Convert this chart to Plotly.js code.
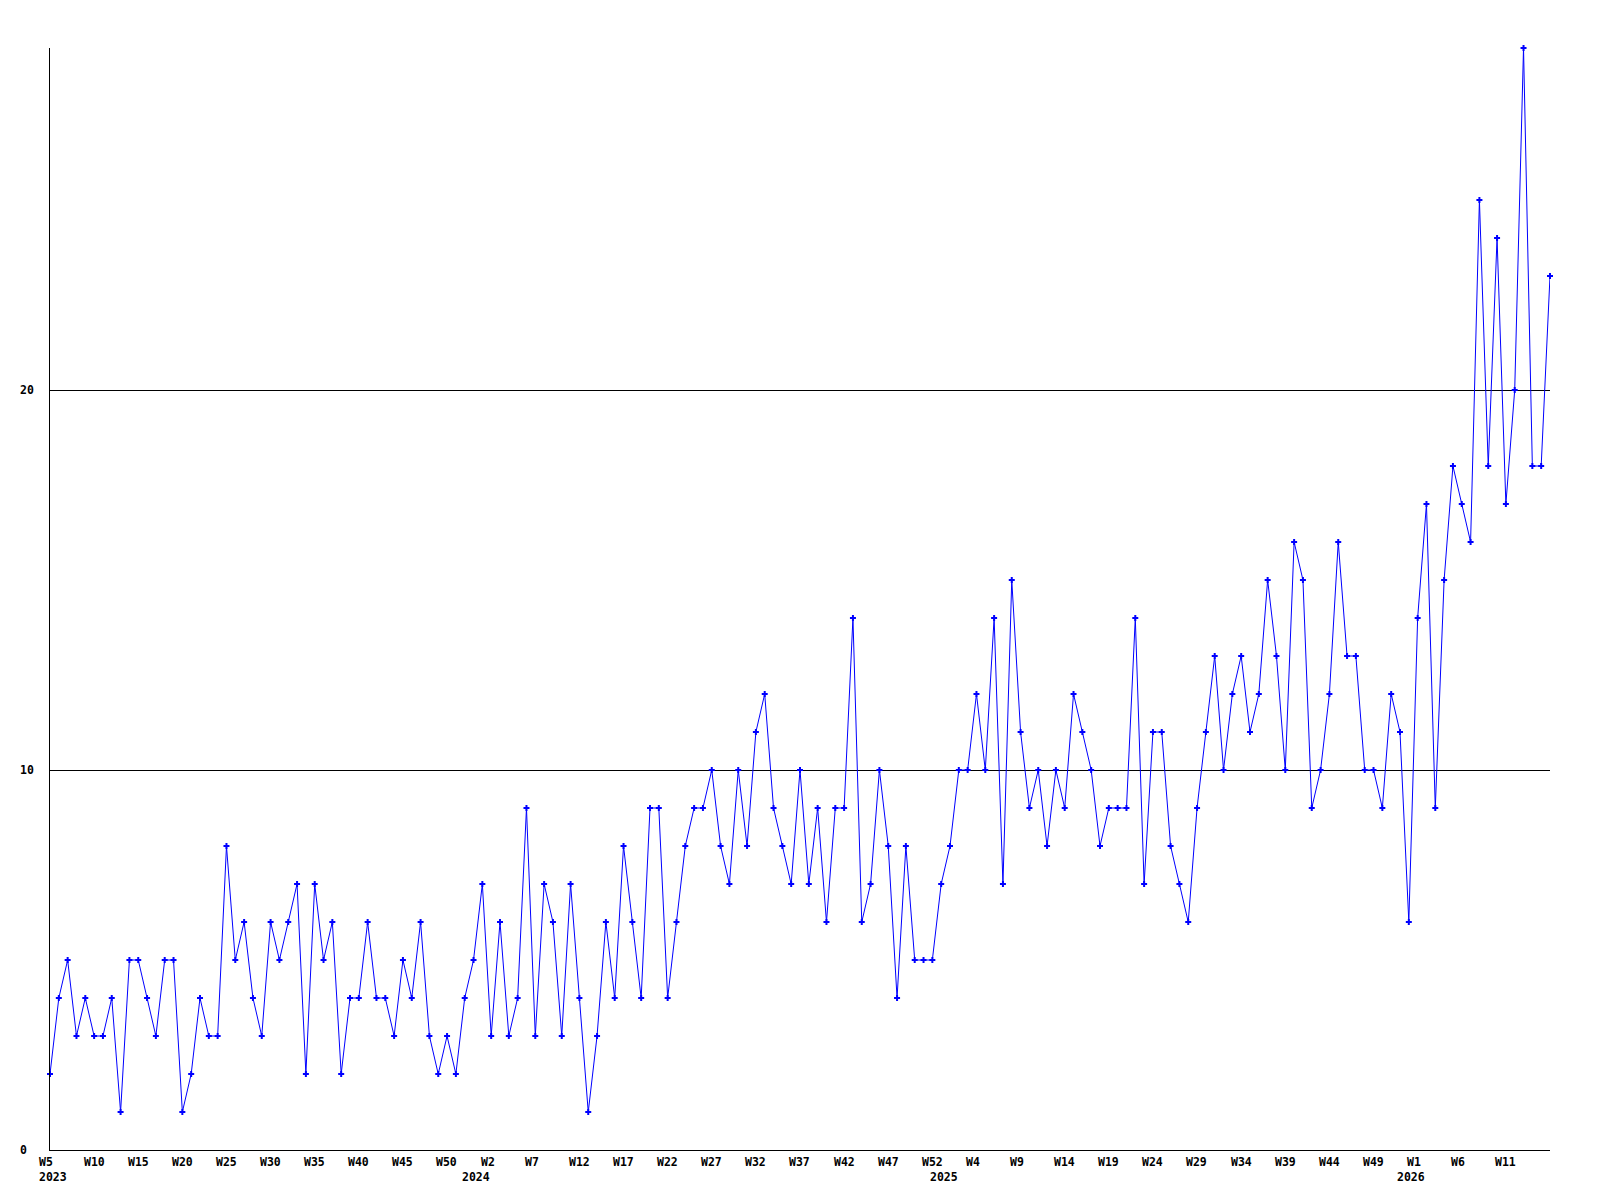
<!DOCTYPE html>
<html>
<head>
<meta charset="utf-8">
<script src="https://cdn.plot.ly/plotly-3.0.1.min.js"></script>
<style>html,body{margin:0;padding:0;background:#fff;}#chart{width:1600px;height:1200px;}</style>
</head>
<body>
<div id="chart"></div>
<script>
// Weekly counts, 2023 W5 onward (one value per week)
const counts = [
  2,4,5,3,4,3,3,4,1,5,
  5,4,3,5,5,1,2,4,3,3,
  8,5,6,4,3,6,5,6,7,2,
  7,5,6,2,4,4,6,4,4,3,
  5,4,6,3,2,3,2,4,5,7,
  3,6,3,4,9,3,7,6,3,7,
  4,1,3,6,4,8,6,4,9,9,
  4,6,8,9,9,10,8,7,10,8,
  11,12,9,8,7,10,7,9,6,9,
  9,14,6,7,10,8,4,8,5,5,
  5,7,8,10,10,12,10,14,7,15,
  11,9,10,8,10,9,12,11,10,8,
  9,9,9,14,7,11,11,8,7,6,
  9,11,13,10,12,13,11,12,15,13,
  10,16,15,9,10,12,16,13,13,10,
  10,9,12,11,6,14,17,9,15,18,
  17,16,25,18,24,17,20,29,18,18,23
];
// Week tick labels (every 5th week)
const weekLabels = [
  "W5","W10","W15","W20","W25","W30","W35","W40","W45","W50",
  "W2","W7","W12","W17","W22","W27","W32","W37","W42","W47","W52",
  "W4","W9","W14","W19","W24","W29","W34","W39","W44","W49",
  "W1","W6","W11"
];
const yearLabels = ["2023","2024","2025","2026"];
// index of the week label under which each year starts
const yearLabelTick = [0, 10, 21, 31];
const yTickValues = [0, 10, 20];

const tickStep = 5;
const xs = counts.map((_, i) => i);

const font = {family: "DejaVu Sans Mono, Liberation Mono, monospace", size: 11.5, color: "#000", weight: "bold"};

const annotations = [];
weekLabels.forEach((lab, k) => {
  annotations.push({
    x: k * tickStep, xref: "x", y: 0, yref: "paper",
    text: lab, showarrow: false, xanchor: "left", yanchor: "middle",
    xshift: -12.6, yshift: -12, font: font
  });
});
yearLabels.forEach((lab, k) => {
  const t = yearLabelTick[k];
  const weekNum = parseInt(weekLabels[t].slice(1), 10);
  const startIdx = t * tickStep - weekNum + 0.3;
  if (startIdx < 0) {
    annotations.push({x: 0, xref: "x", y: 0, yref: "paper", text: lab, showarrow: false,
      xanchor: "left", yanchor: "middle", xshift: -12.6, yshift: -26.5, font: font});
  } else {
    annotations.push({x: startIdx, xref: "x", y: 0, yref: "paper", text: lab, showarrow: false,
      xanchor: "center", yanchor: "middle", yshift: -26.5, font: font});
  }
});
yTickValues.forEach(v => {
  annotations.push({x: 0, xref: "paper", y: v, yref: "y", text: String(v), showarrow: false,
    xanchor: "left", yanchor: "middle", xshift: -32, font: font});
});

const trace = {
  x: xs, y: counts, type: "scatter", mode: "lines+markers",
  line: {color: "#0000ff", width: 1},
  marker: {color: "#0000ff", symbol: "cross", size: 5, line: {width: 0}},
  cliponaxis: false, hoverinfo: "skip"
};

const layout = {
  width: 1600, height: 1200,
  margin: {l: 50, r: 50, t: 48, b: 50, pad: 0},
  paper_bgcolor: "#fff", plot_bgcolor: "#fff",
  showlegend: false,
  xaxis: {range: [0, counts.length - 1], showline: true, linecolor: "#000", linewidth: 1,
    showgrid: false, zeroline: false, showticklabels: false, ticks: "", fixedrange: true},
  yaxis: {range: [0, 29], showline: true, linecolor: "#000", linewidth: 1,
    tickvals: [10, 20], showgrid: true, gridcolor: "#000", gridwidth: 1,
    zeroline: false, showticklabels: false, ticks: "", fixedrange: true},
  annotations: annotations
};

Plotly.newPlot("chart", [trace], layout, {staticPlot: true, displayModeBar: false});
</script>
</body>
</html>
